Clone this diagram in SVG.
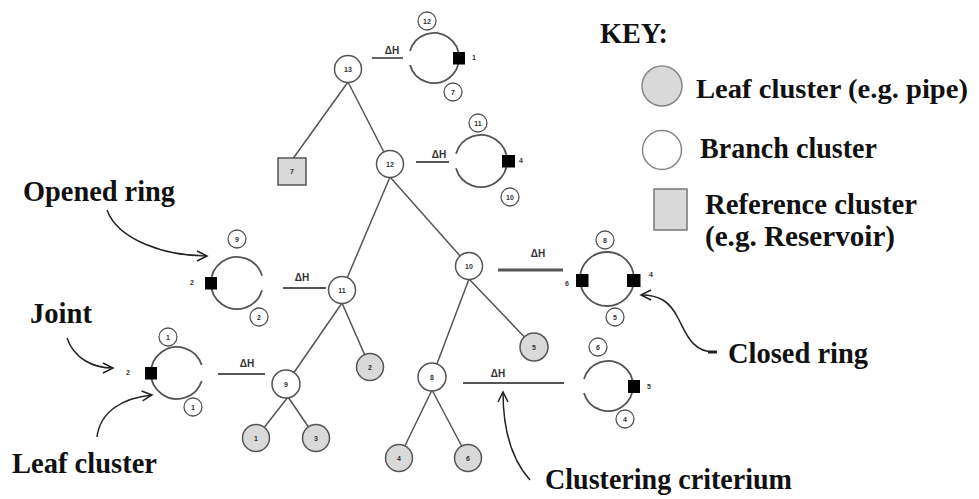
<svg xmlns="http://www.w3.org/2000/svg" width="979" height="499" viewBox="0 0 979 499">
<defs>
<marker id="arr" markerUnits="userSpaceOnUse" markerWidth="12" markerHeight="12" refX="10" refY="5" orient="auto" overflow="visible">
<path d="M0,0 L10,5 L0,10" fill="none" stroke="#222" stroke-width="1.5"/>
</marker>
</defs>
<style>
.edge{stroke:#555;stroke-width:1.5;fill:none}
.node{fill:#fff;stroke:#555;stroke-width:1.5}
.leaf{fill:#d9d9d9;stroke:#555;stroke-width:1.5}
.ring{fill:none;stroke:#555;stroke-width:1.8}
.sm{fill:#fff;stroke:#555;stroke-width:1.3}
.jt{fill:#000}
.num{font-family:"Liberation Sans",Arial,sans-serif;font-size:7px;font-weight:bold;fill:#333;text-anchor:middle}
.dh{font-family:"Liberation Sans",Arial,sans-serif;font-size:10px;font-weight:bold;fill:#333;text-anchor:middle}
.dl{stroke:#555;stroke-width:1.8}
.lbl{font-family:"Liberation Serif","Times New Roman",serif;font-size:30px;font-weight:bold;fill:#111}
.call{fill:none;stroke:#222;stroke-width:1.5;marker-end:url(#arr)}
</style>
<rect width="979" height="499" fill="#fff"/>

<g id="connectors">
<line class="edge" x1="348" y1="82" x2="292" y2="160"/>
<line class="edge" x1="348" y1="82" x2="390" y2="164"/>
<line class="edge" x1="390" y1="177" x2="342" y2="290"/>
<line class="edge" x1="390" y1="177" x2="469" y2="266"/>
<line class="edge" x1="342" y1="303" x2="286" y2="384"/>
<line class="edge" x1="342" y1="303" x2="370" y2="367"/>
<line class="edge" x1="469" y1="279" x2="432" y2="377"/>
<line class="edge" x1="469" y1="279" x2="534" y2="347"/>
<line class="edge" x1="288" y1="397" x2="256" y2="438"/>
<line class="edge" x1="288" y1="397" x2="316" y2="438"/>
<line class="edge" x1="432" y1="390" x2="399" y2="458"/>
<line class="edge" x1="432" y1="390" x2="468" y2="458"/>
</g>

<g id="n13"><circle class="node" cx="348" cy="69" r="13.5"/><text class="num" x="348" y="71.5">13</text></g>
<g id="ref7"><rect class="leaf" x="278" y="158" width="28" height="27"/><text class="num" x="292" y="174">7</text></g>
<g id="n12"><circle class="node" cx="390" cy="164" r="13.5"/><text class="num" x="390" y="166.5">12</text></g>
<g id="n11"><circle class="node" cx="342" cy="290" r="13.5"/><text class="num" x="342" y="292.5">11</text></g>
<g id="n10"><circle class="node" cx="469" cy="266" r="13.5"/><text class="num" x="469" y="268.5">10</text></g>
<g id="n9"><circle class="node" cx="286" cy="384" r="14"/><text class="num" x="286" y="386.5">9</text></g>
<g id="n8"><circle class="node" cx="432" cy="377" r="14"/><text class="num" x="432" y="379.5">8</text></g>
<g id="l2"><circle class="leaf" cx="370" cy="367" r="13.5"/><text class="num" x="370" y="369.5">2</text></g>
<g id="l5"><circle class="leaf" cx="534" cy="347" r="14"/><text class="num" x="534" y="349.5">5</text></g>
<g id="l1"><circle class="leaf" cx="256" cy="438" r="13.5"/><text class="num" x="256" y="440.5">1</text></g>
<g id="l3"><circle class="leaf" cx="316" cy="438" r="13.5"/><text class="num" x="316" y="440.5">3</text></g>
<g id="l4"><circle class="leaf" cx="399" cy="458" r="13.5"/><text class="num" x="399" y="460.5">4</text></g>
<g id="l6"><circle class="leaf" cx="468" cy="458" r="13.5"/><text class="num" x="468" y="460.5">6</text></g>

<g id="dh13"><line class="dl" x1="372" y1="58" x2="403" y2="58"/><text class="dh" x="392" y="54">ΔH</text></g>
<g id="ring13">
<path class="ring" d="M409.97,51.11 A25,25 0 1 1 409.97,64.89"/>
<rect class="jt" x="453" y="52" width="12" height="12.5"/>
<text class="num" x="474" y="60">1</text>
<circle class="sm" cx="427" cy="21" r="9"/><text class="num" x="427" y="23.5">12</text>
<circle class="sm" cx="453" cy="92" r="9"/><text class="num" x="453" y="94.5">7</text>
</g>

<g id="dh12"><line class="dl" x1="416" y1="162" x2="449" y2="162"/><text class="dh" x="439" y="158">ΔH</text></g>
<g id="ring12">
<path class="ring" d="M456,153.83 A26,26 0 1 1 456,168.17"/>
<rect class="jt" x="502" y="155" width="13" height="12.5"/>
<text class="num" x="521" y="163">4</text>
<circle class="sm" cx="478" cy="123" r="9"/><text class="num" x="478" y="125.5">11</text>
<circle class="sm" cx="510" cy="197" r="9"/><text class="num" x="510" y="199.5">10</text>
</g>

<g id="dh11"><line class="dl" x1="283" y1="288" x2="326" y2="288"/><text class="dh" x="302" y="281">ΔH</text></g>
<g id="ringOpen">
<path class="ring" d="M262,275.83 A26,26 0 1 0 262,290.17"/>
<rect class="jt" x="205" y="277" width="12" height="12.5"/>
<text class="num" x="192" y="285">2</text>
<circle class="sm" cx="237" cy="239" r="9"/><text class="num" x="237" y="241.5">9</text>
<circle class="sm" cx="259" cy="317" r="9"/><text class="num" x="259" y="319.5">2</text>
</g>

<g id="dh10"><line x1="498" y1="270" x2="563" y2="270" stroke="#555" stroke-width="3"/><text class="dh" x="538" y="257">ΔH</text></g>
<g id="ringClosed">
<circle class="ring" cx="607" cy="279" r="27"/>
<rect class="jt" x="576" y="274" width="12.5" height="13"/>
<rect class="jt" x="627" y="274" width="13.5" height="13"/>
<text class="num" x="567" y="286">6</text>
<text class="num" x="651" y="277">4</text>
<circle class="sm" cx="605" cy="240" r="9"/><text class="num" x="605" y="242.5">8</text>
<circle class="sm" cx="615" cy="317" r="9"/><text class="num" x="615" y="319.5">5</text>
</g>

<g id="dh9"><line class="dl" x1="218" y1="374" x2="265" y2="374"/><text class="dh" x="247" y="367">ΔH</text></g>
<g id="ringJoint">
<path class="ring" d="M201.7,365 A26,26 0 1 0 201.7,381"/>
<rect class="jt" x="145" y="367" width="12" height="12.5"/>
<text class="num" x="128" y="374.5">2</text>
<circle class="sm" cx="168" cy="337" r="9"/><text class="num" x="168" y="339.5">1</text>
<circle class="sm" cx="193" cy="407" r="9"/><text class="num" x="193" y="409.5">1</text>
</g>

<g id="dh8"><line class="dl" x1="463" y1="383" x2="564" y2="383"/><text class="dh" x="498" y="377">ΔH</text></g>
<g id="ring5">
<path class="ring" d="M583.97,379.11 A25,25 0 1 1 583.97,392.89"/>
<rect class="jt" x="628" y="380" width="12" height="13"/>
<text class="num" x="649" y="388.5">5</text>
<circle class="sm" cx="598" cy="347" r="9"/><text class="num" x="598" y="349.5">6</text>
<circle class="sm" cx="625" cy="419" r="9"/><text class="num" x="625" y="421.5">4</text>
</g>

<g id="callouts">
<path class="call" d="M107,210 C118,240 165,256 207,256"/>
<path class="call" d="M67,338 C74,358 92,368 113,368"/>
<path class="call" d="M97,437 C100,412 122,398 152,395"/>
<path class="call" d="M530,480 C512,460 503,430 503,392"/>
<path class="call" d="M716,352 C692,353 686,333 678,318 C670,302 660,295 641,295"/>
<line x1="708" y1="352" x2="717" y2="352" stroke="#222" stroke-width="3"/>
</g>

<g id="labels">
<text class="lbl" x="23" y="201" textLength="152" lengthAdjust="spacingAndGlyphs">Opened ring</text>
<text class="lbl" x="30" y="323" textLength="62" lengthAdjust="spacingAndGlyphs">Joint</text>
<text class="lbl" x="12" y="473" textLength="145" lengthAdjust="spacingAndGlyphs">Leaf cluster</text>
<text class="lbl" x="728" y="363" textLength="140" lengthAdjust="spacingAndGlyphs">Closed ring</text>
<text class="lbl" x="545" y="489" textLength="247" lengthAdjust="spacingAndGlyphs">Clustering criterium</text>
</g>

<g id="key">
<text class="lbl" x="600" y="43" textLength="68" lengthAdjust="spacingAndGlyphs">KEY:</text>
<circle cx="662" cy="86" r="20" fill="#d9d9d9" stroke="#888" stroke-width="1.5"/>
<text class="lbl" x="696" y="98" style="font-size:28px" textLength="272" lengthAdjust="spacingAndGlyphs">Leaf cluster (e.g. pipe)</text>
<circle cx="662" cy="150" r="19.5" fill="#fff" stroke="#888" stroke-width="1.5"/>
<text class="lbl" x="700" y="158" textLength="177" lengthAdjust="spacingAndGlyphs">Branch cluster</text>
<rect x="654" y="189" width="33" height="41" fill="#d9d9d9" stroke="#777" stroke-width="1.5"/>
<text class="lbl" x="705" y="214" textLength="212" lengthAdjust="spacingAndGlyphs">Reference cluster</text>
<text class="lbl" x="705" y="246" textLength="190" lengthAdjust="spacingAndGlyphs">(e.g. Reservoir)</text>
</g>
</svg>
